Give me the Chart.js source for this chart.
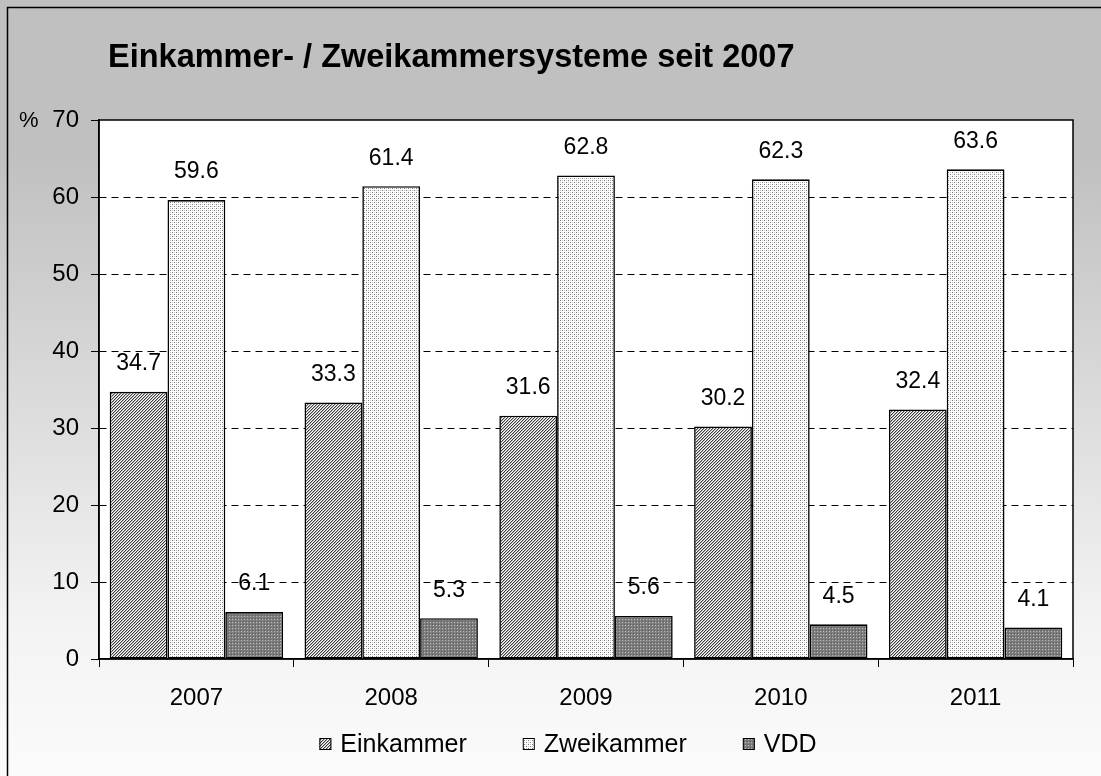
<!DOCTYPE html>
<html>
<head>
<meta charset="utf-8">
<script src="https://cdn.jsdelivr.net/npm/chart.js@4.4.1/dist/chart.umd.min.js"></script>
<style>
  html,body{margin:0;padding:0;background:#fff;}
  #wrap{width:1101px;height:776px;position:relative;}
</style>
</head>
<body>
<div id="wrap"><canvas id="c" width="1101" height="776"></canvas></div>
<script>
const categories = ['2007', '2008', '2009', '2010', '2011'];
const einkammer = [34.7, 33.3, 31.6, 30.2, 32.4];
const zweikammer = [59.6, 61.4, 62.8, 62.3, 63.6];
const vdd = [6.1, 5.3, 5.6, 4.5, 4.1];
const seriesNames = ['Einkammer', 'Zweikammer', 'VDD'];
const titleText = 'Einkammer- / Zweikammersysteme seit 2007';
const yUnit = '%';

const FONT = '"Liberation Sans", Arial, sans-serif';

function makePattern(size, draw) {
  const c = document.createElement('canvas');
  c.width = size; c.height = size;
  const g = c.getContext('2d');
  draw(g);
  return document.getElementById('c').getContext('2d').createPattern(c, 'repeat');
}
// fine diagonal hatch
const patHatch = makePattern(3, g => {
  g.fillStyle = '#ffffff'; g.fillRect(0,0,3,3);
  for (let x=0;x<3;x++) for (let y=0;y<3;y++) {
    const k=(x+y)%3;
    if (k===0){g.fillStyle='#3c3c3c';g.fillRect(x,y,1,1);}
    else if (k===1){g.fillStyle='#b4b4b4';g.fillRect(x,y,1,1);}
  }
});
// light dots
const patDots = makePattern(4, g => {
  g.fillStyle = '#ffffff'; g.fillRect(0,0,4,4);
  g.fillStyle = '#7a7a7a';
  g.fillRect(0,0,1,1); g.fillRect(2,2,1,1);
  g.fillStyle = '#c8c8c8';
  g.fillRect(2,0,1,1); g.fillRect(0,2,1,1);
});
// dark dotted
const patDark = makePattern(3, g => {
  g.fillStyle = '#7c7c7c'; g.fillRect(0,0,3,3);
  g.fillStyle = '#bdbdbd';
  g.fillRect(1,1,1,1);
  g.fillStyle = '#5e5e5e';
  g.fillRect(0,0,1,1);
});
const patterns = [patHatch, patDots, patDark];

const bgPlugin = {
  id: 'bg',
  beforeDraw(chart) {
    const ctx = chart.ctx, W = chart.width, H = chart.height;
    ctx.save();
    const gr = ctx.createLinearGradient(0, 0, 0, H);
    gr.addColorStop(0, '#c0c0c0');
    gr.addColorStop(0.2, '#c0c0c0');
    gr.addColorStop(0.8, '#f3f3f3');
    gr.addColorStop(1, '#fbfbfb');
    ctx.fillStyle = gr;
    ctx.fillRect(0, 0, W, H);
    ctx.strokeStyle = '#000';
    ctx.lineWidth = 1.5;
    ctx.strokeRect(7.5, 7.5, W + 10, H + 10);
    const a = chart.chartArea;
    ctx.fillStyle = '#ffffff';
    ctx.fillRect(a.left, a.top, a.right - a.left, a.bottom - a.top);
    ctx.restore();
  },
  afterDraw(chart) {
    const ctx = chart.ctx, a = chart.chartArea;
    ctx.save();
    // plot border
    ctx.strokeStyle = '#000';
    ctx.lineWidth = 1.5;
    ctx.strokeRect(a.left, a.top, a.right - a.left, a.bottom - a.top);
    // title
    ctx.fillStyle = '#000';
    ctx.font = 'bold 32.5px ' + FONT;
    ctx.textAlign = 'left';
    ctx.textBaseline = 'alphabetic';
    ctx.fillText(titleText, 108, 67);
    // unit
    ctx.font = '22px ' + FONT;
    ctx.textBaseline = 'middle';
    ctx.fillText(yUnit, 19, a.top + 1);
    // value labels
    ctx.font = '23px ' + FONT;
    ctx.textAlign = 'center';
    ctx.textBaseline = 'middle';
    chart.data.datasets.forEach((ds, i) => {
      const meta = chart.getDatasetMeta(i);
      meta.data.forEach((bar, j) => {
        ctx.fillText(ds.data[j].toFixed(1), bar.x, bar.y - 28);
      });
    });
    // legend
    ctx.font = '25px ' + FONT;
    ctx.textAlign = 'left';
    const gapBox = 9, gapItem = 56, box = 12;
    let total = 0;
    const widths = seriesNames.map(n => ctx.measureText(n).width);
    widths.forEach((w, i) => { total += box + gapBox + w + (i < widths.length - 1 ? gapItem : 0); });
    let x = 568 - total / 2;
    const yc = 744;
    seriesNames.forEach((n, i) => {
      ctx.fillStyle = patterns[i];
      ctx.fillRect(x, yc - box/2, box, box);
      ctx.strokeStyle = '#000'; ctx.lineWidth = 1;
      ctx.strokeRect(x + 0.5, yc - box/2 + 0.5, box - 1, box - 1);
      ctx.fillStyle = '#000';
      ctx.fillText(n, x + box + gapBox, yc + 1);
      x += box + gapBox + widths[i] + gapItem;
    });
    ctx.restore();
  }
};

new Chart(document.getElementById('c'), {
  type: 'bar',
  data: {
    labels: categories,
    datasets: [
      { label: seriesNames[0], data: einkammer, backgroundColor: patHatch },
      { label: seriesNames[1], data: zweikammer, backgroundColor: patDots },
      { label: seriesNames[2], data: vdd, backgroundColor: patDark }
    ]
  },
  options: {
    responsive: false,
    animation: false,
    devicePixelRatio: 1,
    layout: { padding: { top: 120, right: 28, left: 0, bottom: 0 } },
    datasets: {
      bar: {
        categoryPercentage: 0.89,
        barPercentage: 1.0,
        borderColor: '#000',
        borderWidth: 1.6,
        borderSkipped: false
      }
    },
    plugins: {
      legend: { display: false },
      title: { display: false },
      tooltip: { enabled: false }
    },
    scales: {
      x: {
        afterFit(s) { s.height = 117; },
        grid: {
          offset: true,
          drawOnChartArea: false,
          drawTicks: true,
          tickLength: 8,
          color: '#000',
          lineWidth: 1
        },
        border: { display: true, color: '#000', width: 1.5 },
        ticks: { color: '#000', font: { family: FONT, size: 24 }, padding: 17, maxRotation: 0 }
      },
      y: {
        min: 0, max: 70,
        afterFit(s) { s.width = 99; },
        grid: {
          color: ctx => (ctx.tick && (ctx.tick.value === 0 || ctx.tick.value === 70)) ? 'rgba(0,0,0,0)' : '#000',
          tickColor: '#000',
          lineWidth: 1,
          tickBorderDash: [],
          tickLength: 8,
          drawTicks: true
        },
        border: { display: true, color: '#000', width: 1.5, dash: [7, 5] },
        ticks: { stepSize: 10, color: '#000', font: { family: FONT, size: 24 }, padding: 12 }
      }
    }
  },
  plugins: [bgPlugin]
});
</script>
</body>
</html>
